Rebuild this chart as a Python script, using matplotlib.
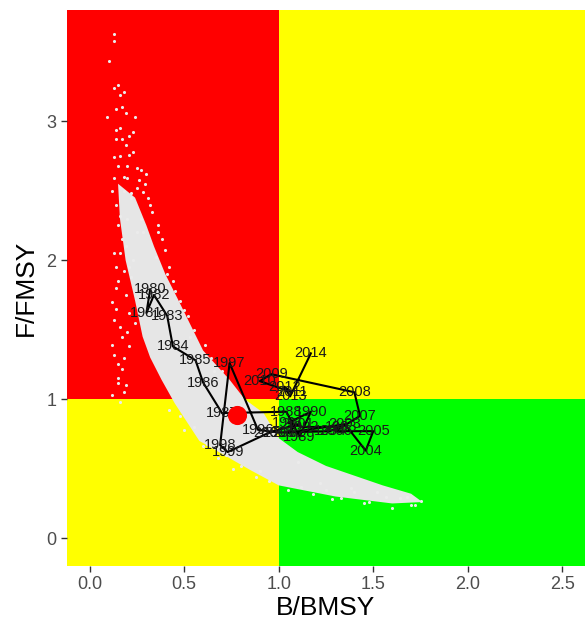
import matplotlib
matplotlib.use('Agg')
import matplotlib.pyplot as plt
from matplotlib.patches import Rectangle

plt.rcParams['font.family'] = ['Liberation Sans', 'DejaVu Sans']

#%% data
years = list(range(1980, 2015))
b_bmsy = [0.32, 0.30, 0.34, 0.41, 0.44, 0.56, 0.60, 0.70, 1.04, 1.11,
          1.17, 1.05, 1.13, 1.33, 1.27, 1.00, 0.89, 0.74, 0.69, 0.73,
          0.95, 1.10, 1.05, 1.35, 1.46, 1.50, 1.30, 1.43, 1.40, 0.96,
          0.90, 1.07, 1.03, 1.06, 1.17]
f_fmsy = [1.79, 1.62, 1.75, 1.60, 1.38, 1.28, 1.12, 0.90, 0.91, 0.73,
          0.91, 0.83, 0.80, 0.80, 0.77, 0.76, 0.78, 1.26, 0.67, 0.62,
          0.76, 0.82, 0.76, 0.82, 0.63, 0.77, 0.77, 0.88, 1.05, 1.18,
          1.13, 1.05, 1.09, 1.02, 1.33]

# current status point
cur_b, cur_f = 0.78, 0.885

# dense part of the uncertainty cloud (upper / lower edges)
cloud_up_b = [0.15, 0.24, 0.30, 0.34, 0.40, 0.47, 0.60, 0.74, 0.82, 0.92, 1.00, 1.10, 1.25, 1.40, 1.55, 1.70, 1.76]
cloud_up_f = [2.55, 2.45, 2.25, 2.10, 1.90, 1.71, 1.35, 1.14, 1.00, 0.90, 0.72, 0.62, 0.52, 0.45, 0.38, 0.32, 0.26]
cloud_lo_b = [0.15, 0.16, 0.19, 0.24, 0.28, 0.32, 0.38, 0.45, 0.58, 0.85, 1.00, 1.30, 1.60, 1.76]
cloud_lo_f = [2.55, 2.30, 2.00, 1.71, 1.45, 1.30, 1.14, 0.97, 0.70, 0.49, 0.38, 0.30, 0.25, 0.26]

# scattered cloud points
scat_b = [0.13, 0.13, 0.10, 0.13, 0.15, 0.16, 0.18, 0.14, 0.17, 0.19, 0.09, 0.24,
          0.14, 0.16, 0.14, 0.17, 0.21, 0.23, 0.19, 0.13, 0.16, 0.21, 0.23, 0.15,
          0.20, 0.25, 0.27, 0.13, 0.18, 0.20, 0.12, 0.18, 0.28, 0.22,
          0.13, 0.12, 0.15, 0.12, 0.16, 0.19, 0.17, 0.14, 0.21, 0.12, 0.16,
          0.40, 0.42, 0.48, 0.52, 0.61, 0.64, 0.36, 0.44, 0.55, 0.70,
          0.48, 0.55, 0.62, 0.72, 0.80, 0.66, 0.90,
          1.10, 1.22, 1.38, 1.52, 1.64, 1.70, 1.75, 1.60, 1.45, 1.28, 0.20, 0.25,
          0.14, 0.15, 0.17, 0.13, 0.18, 0.15, 0.19, 0.14, 0.16, 0.20, 0.13, 0.17,
          0.15, 0.18, 0.21, 0.14, 0.22, 0.16, 0.19, 0.23, 0.15, 0.18, 0.24, 0.21,
          0.33, 0.36, 0.31, 0.38, 0.35, 0.41, 0.45, 0.50, 0.43, 0.53, 0.58, 0.66,
          0.29, 0.32, 0.27, 0.26, 0.30, 0.28, 0.25, 0.22,
          0.42, 0.50, 0.60, 0.68, 0.76, 0.88, 0.95,
          1.05, 1.18, 1.33, 1.48, 1.57, 1.68, 1.72, 1.40, 1.25, 1.12]
scat_f = [3.63, 3.58, 3.43, 3.24, 3.26, 3.19, 3.21, 3.09, 3.10, 3.06, 3.03, 3.03,
          2.94, 2.95, 2.87, 2.87, 2.89, 2.92, 2.83, 2.74, 2.75, 2.76, 2.78, 2.68,
          2.68, 2.66, 2.65, 2.59, 2.60, 2.59, 2.50, 2.50, 2.49, 2.48,
          1.57, 1.39, 1.25, 1.03, 0.98, 1.10, 1.45, 1.80, 1.95, 1.70, 2.05,
          2.07, 1.95, 1.71, 1.60, 1.39, 1.30, 2.25, 1.85, 1.50, 1.20,
          0.88, 0.80, 0.68, 0.60, 0.52, 0.72, 0.48,
          0.55, 0.40, 0.36, 0.33, 0.29, 0.24, 0.27, 0.22, 0.25, 0.28, 2.30, 2.20,
          2.40, 2.25, 2.15, 2.05, 1.92, 1.85, 1.75, 1.65, 1.52, 1.48, 1.32, 1.22,
          1.15, 1.05, 1.62, 1.95, 1.88, 2.32, 2.10, 2.00, 1.12, 1.30, 1.55, 1.38,
          2.35, 2.20, 2.45, 2.15, 2.02, 1.90, 1.78, 1.64, 1.58, 1.45, 1.28, 1.20,
          2.55, 2.40, 2.30, 2.58, 2.62, 2.20, 2.52, 2.45,
          0.92, 0.78, 0.66, 0.58, 0.50, 0.44, 0.41,
          0.35, 0.32, 0.29, 0.26, 0.30, 0.30, 0.24, 0.33, 0.35, 0.37]

x_ticks = [0.0, 0.5, 1.0, 1.5, 2.0, 2.5]
y_ticks = [0, 1, 2, 3]
xlim = (-0.12, 2.62)
ylim = (-0.2, 3.80)
ref_b, ref_f = 1.0, 1.0

#%% plot
fig = plt.figure(figsize=(5.85, 6.36), dpi=100)
ax = fig.add_axes([67/585, 70/636, 518/585, 556/636])

big = 10
ax.add_patch(Rectangle((-big, ref_f), big + ref_b, big, color='#FF0000', lw=0, zorder=0))
ax.add_patch(Rectangle((ref_b, ref_f), big, big, color='#FFFF00', lw=0, zorder=0))
ax.add_patch(Rectangle((-big, -big), big + ref_b, big + ref_f, color='#FFFF00', lw=0, zorder=0))
ax.add_patch(Rectangle((ref_b, -big), big, big + ref_f, color='#00FF00', lw=0, zorder=0))

# cloud
poly_b = cloud_up_b + cloud_lo_b[::-1]
poly_f = cloud_up_f + cloud_lo_f[::-1]
ax.fill(poly_b, poly_f, color='#E6E6E6', lw=0, zorder=1)
ax.scatter(scat_b, scat_f, s=5, color='#EBEBEB', lw=0, zorder=1)

# trajectory
ax.plot(b_bmsy, f_fmsy, color='black', lw=1.5, zorder=2)
for yr, b, f in zip(years, b_bmsy, f_fmsy):
    ax.text(b, f, str(yr), fontsize=10.5, color='#1a1a1a', ha='center', va='center', zorder=3)

ax.scatter([cur_b], [cur_f], s=190, color='#FF0000', lw=0, zorder=4)

ax.set_xlim(xlim)
ax.set_ylim(ylim)
ax.set_xticks(x_ticks)
ax.set_xticklabels(['%.1f' % v for v in x_ticks])
ax.set_yticks(y_ticks)
for s in ax.spines.values():
    s.set_visible(False)
ax.tick_params(colors='#333333', labelcolor='#4D4D4D', labelsize=13, length=4, width=1)
ax.set_xlabel('B/BMSY', fontsize=19, labelpad=2)
ax.set_ylabel('F/FMSY', fontsize=19, labelpad=6)

plt.savefig('out.png', dpi=100)
